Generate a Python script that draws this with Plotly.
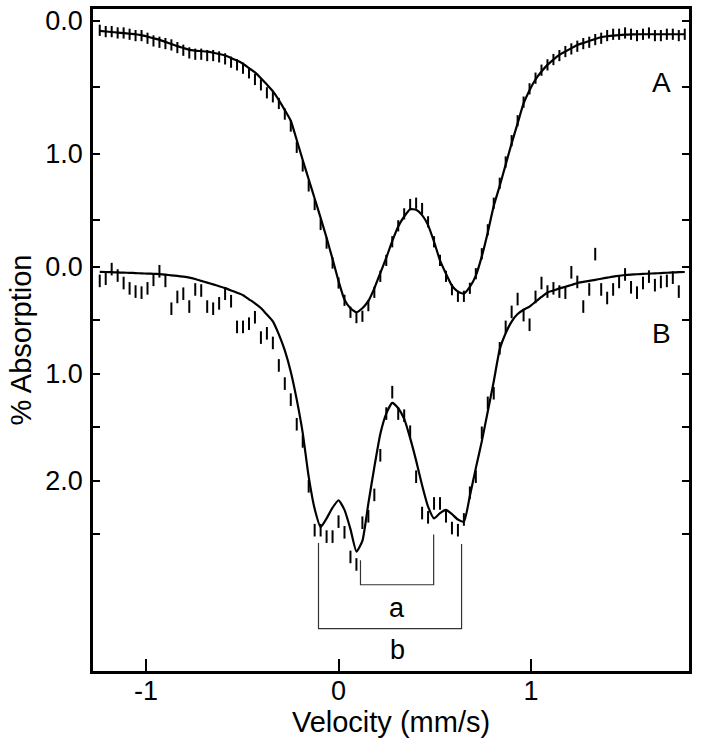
import plotly.graph_objects as go

# velocity grid (mm/s), shared by both spectra
velocity = [
    -1.240, -1.209, -1.178, -1.147, -1.116, -1.085, -1.054, -1.023, -0.992, -0.961,
    -0.930, -0.899, -0.868, -0.837, -0.806, -0.775, -0.744, -0.713, -0.682, -0.651,
    -0.620, -0.589, -0.558, -0.527, -0.496, -0.465, -0.434, -0.403, -0.372, -0.341,
    -0.310, -0.279, -0.248, -0.217, -0.186, -0.155, -0.124, -0.093, -0.062, -0.031,
    0.000, 0.031, 0.062, 0.093, 0.124, 0.155, 0.186, 0.217, 0.248, 0.279,
    0.310, 0.341, 0.372, 0.403, 0.434, 0.465, 0.496, 0.527, 0.558, 0.589,
    0.620, 0.651, 0.682, 0.713, 0.744, 0.775, 0.806, 0.837, 0.868, 0.899,
    0.930, 0.961, 0.992, 1.023, 1.054, 1.085, 1.116, 1.147, 1.178, 1.209,
    1.240, 1.271, 1.302, 1.333, 1.364, 1.395, 1.426, 1.457, 1.488, 1.519,
    1.550, 1.581, 1.612, 1.643, 1.674, 1.705, 1.736, 1.767, 1.798,
]

# spectrum A (% absorption)
data_a = [
    0.07, 0.08, 0.08, 0.09, 0.09, 0.10, 0.11, 0.11, 0.13, 0.15,
    0.16, 0.17, 0.18, 0.20, 0.22, 0.24, 0.25, 0.25, 0.26, 0.26,
    0.27, 0.285, 0.31, 0.33, 0.355, 0.39, 0.44, 0.48, 0.54, 0.57,
    0.62, 0.70, 0.79, 0.95, 1.09, 1.24, 1.38, 1.53, 1.67, 1.82,
    1.97, 2.10, 2.19, 2.23, 2.22, 2.14, 2.04, 1.92, 1.80, 1.66,
    1.54, 1.45, 1.38, 1.37, 1.41, 1.51, 1.66, 1.80, 1.92, 2.02,
    2.07, 2.07, 2.01, 1.90, 1.75, 1.57, 1.37, 1.22, 1.06, 0.90,
    0.75, 0.61, 0.51, 0.43, 0.37, 0.33, 0.29, 0.26, 0.23, 0.21,
    0.19, 0.17, 0.16, 0.14, 0.13, 0.11, 0.10, 0.10, 0.09, 0.10,
    0.11, 0.10, 0.09, 0.11, 0.11, 0.10, 0.10, 0.11, 0.10,
]
fit_a = [
    0.075, 0.079, 0.083, 0.087, 0.091, 0.096, 0.100, 0.107, 0.118, 0.130,
    0.142, 0.157, 0.173, 0.189, 0.203, 0.217, 0.223, 0.227, 0.231, 0.239,
    0.248, 0.260, 0.278, 0.298, 0.322, 0.355, 0.386, 0.430, 0.478, 0.528,
    0.595, 0.670, 0.750, 0.895, 1.045, 1.190, 1.335, 1.480, 1.630, 1.790,
    1.955, 2.095, 2.160, 2.190, 2.160, 2.105, 2.010, 1.895, 1.780, 1.655,
    1.545, 1.470, 1.415, 1.420, 1.460, 1.535, 1.660, 1.800, 1.900, 1.990,
    2.035, 2.050, 2.000, 1.915, 1.770, 1.590, 1.390, 1.240, 1.080, 0.920,
    0.770, 0.620, 0.520, 0.440, 0.380, 0.330, 0.290, 0.255, 0.230, 0.205,
    0.180, 0.165, 0.150, 0.135, 0.122, 0.115, 0.110, 0.106, 0.103, 0.101,
    0.100, 0.100, 0.100, 0.100, 0.100, 0.100, 0.100, 0.100, 0.100,
]

# spectrum B (% absorption)
data_b = [
    0.13, 0.11, 0.02, 0.08, 0.15, 0.20, 0.23, 0.24, 0.20, 0.12,
    0.04, 0.13, 0.39, 0.28, 0.25, 0.37, 0.21, 0.22, 0.37, 0.39,
    0.34, 0.25, 0.32, 0.56, 0.56, 0.53, 0.47, 0.66, 0.62, 0.71,
    0.92, 1.09, 1.24, 1.47, 1.63, 2.05, 2.46, 2.46, 2.52, 2.52,
    2.38, 2.48, 2.71, 2.78, 2.39, 2.33, 2.13, 1.76, 1.37, 1.17,
    1.37, 1.39, 1.54, 1.96, 2.30, 2.34, 2.21, 2.21, 2.33, 2.44,
    2.46, 2.36, 2.11, 1.96, 1.55, 1.27, 1.18, 0.76, 0.56, 0.42,
    0.30, 0.45, 0.54, 0.28, 0.15, 0.23, 0.20, 0.23, 0.24, 0.05,
    0.14, 0.37, 0.21, -0.12, 0.21, 0.29, 0.21, 0.14, 0.07, 0.19,
    0.24, 0.15, 0.09, 0.17, 0.14, 0.13, 0.10, 0.23, None,
]
fit_b = [
    0.045, 0.047, 0.049, 0.051, 0.053, 0.055, 0.057, 0.060, 0.062, 0.064,
    0.067, 0.072, 0.078, 0.084, 0.091, 0.099, 0.113, 0.130, 0.146, 0.163,
    0.180, 0.198, 0.219, 0.241, 0.264, 0.302, 0.340, 0.384, 0.445, 0.508,
    0.630, 0.780, 0.980, 1.240, 1.550, 1.960, 2.260, 2.430, 2.350, 2.250,
    2.180, 2.270, 2.450, 2.660, 2.560, 2.210, 1.870, 1.560, 1.370, 1.270,
    1.320, 1.420, 1.600, 1.810, 2.040, 2.240, 2.350, 2.300, 2.270, 2.310,
    2.360, 2.380, 2.140, 1.880, 1.630, 1.350, 1.070, 0.770, 0.620, 0.510,
    0.440, 0.400, 0.370, 0.325, 0.280, 0.238, 0.220, 0.200, 0.185, 0.168,
    0.150, 0.140, 0.130, 0.120, 0.110, 0.100, 0.090, 0.082, 0.075, 0.071,
    0.068, 0.065, 0.062, 0.060, 0.057, 0.054, 0.051, 0.049, 0.047,
]

# doublet line positions (mm/s) for the a / b brackets under spectrum B
doublet_a = [0.114, 0.494]
doublet_b = [-0.104, 0.639]
bracket_a_top = [2.74, 2.50]
bracket_a_bar = 2.97
bracket_b_top = [2.58, 2.59]
bracket_b_bar = 3.38

FONT = "Arial, Liberation Sans, sans-serif"
fig = go.Figure()

# spectrum A on y, spectrum B on y2 (different vertical scales)
fig.add_trace(go.Scatter(
    x=velocity, y=data_a, mode="markers",
    marker=dict(symbol="line-ns", size=8, line=dict(width=2, color="black")),
    yaxis="y", showlegend=False,
))
fig.add_trace(go.Scatter(
    x=velocity, y=fit_a, mode="lines", line=dict(color="black", width=2.2, shape="spline", smoothing=0.5),
    yaxis="y", showlegend=False,
))
fig.add_trace(go.Scatter(
    x=velocity, y=data_b, mode="markers",
    marker=dict(symbol="line-ns", size=9, line=dict(width=2, color="black")),
    yaxis="y2", showlegend=False,
))
fig.add_trace(go.Scatter(
    x=velocity, y=fit_b, mode="lines", line=dict(color="black", width=2.2, shape="spline", smoothing=0.5),
    yaxis="y2", showlegend=False,
))

# brackets
for pos, tops, bar in [(doublet_a, bracket_a_top, bracket_a_bar), (doublet_b, bracket_b_top, bracket_b_bar)]:
    fig.add_trace(go.Scatter(
        x=[pos[0], pos[0], pos[1], pos[1]],
        y=[tops[0], bar, bar, tops[1]],
        mode="lines", line=dict(color="#333333", width=1.2),
        yaxis="y2", showlegend=False,
    ))

label_x = sum(doublet_a) / 2
fig.add_annotation(x=label_x, y=3.19, yref="y2", text="a", showarrow=False,
                   font=dict(size=27, family=FONT, color="black"))
fig.add_annotation(x=label_x, y=3.58, yref="y2", text="b", showarrow=False,
                   font=dict(size=27, family=FONT, color="black"))
fig.add_annotation(x=1.678, y=0.46, yref="y", text="A", showarrow=False,
                   font=dict(size=28, family=FONT, color="black"))
fig.add_annotation(x=1.678, y=0.62, yref="y2", text="B", showarrow=False,
                   font=dict(size=28, family=FONT, color="black"))

fig.update_layout(
    width=701, height=747,
    margin=dict(l=93, r=12, t=9, b=76),
    plot_bgcolor="white", paper_bgcolor="white",
    font=dict(family=FONT, size=27, color="black"),
    xaxis=dict(
        range=[-1.275, 1.82], tickvals=[-1, 0, 1], ticktext=["-1", "0", "1"],
        ticks="inside", ticklen=12, tickwidth=2, tickcolor="black",
        showline=True, linewidth=2.5, linecolor="black", mirror=True,
        showgrid=False, zeroline=False, automargin=False,
        ticklabelstandoff=-6,
        title=dict(text="Velocity (mm/s)", font=dict(size=29), standoff=0),
    ),
    yaxis=dict(
        range=[4.887, -0.090],
        tickvals=[0, 0.5, 1.0, 1.5], ticktext=["0.0", "", "1.0", ""],
        ticks="inside", ticklen=7, tickwidth=2, tickcolor="black",
        showline=True, linewidth=2.5, linecolor="black", mirror="ticks",
        showgrid=False, zeroline=False, automargin=False,
        ticklabelstandoff=2,
        title=dict(text="% Absorption", font=dict(size=29), standoff=6),
    ),
    yaxis2=dict(
        range=[3.776, -2.411], overlaying="y", side="left",
        tickvals=[0, 0.5, 1.0, 1.5, 2.0, 2.5], ticktext=["0.0", "", "1.0", "", "2.0", ""],
        ticks="inside", ticklen=7, tickwidth=2, tickcolor="black",
        showline=True, linewidth=2.5, linecolor="black", mirror="ticks",
        showgrid=False, zeroline=False, automargin=False,
        ticklabelstandoff=2,
    ),
)

# drop the default page margin so the figure sits at the window origin
fig.write_html(
    "out.html",
    config={"displayModeBar": False},
    post_script="document.body.style.margin='0px';",
)
